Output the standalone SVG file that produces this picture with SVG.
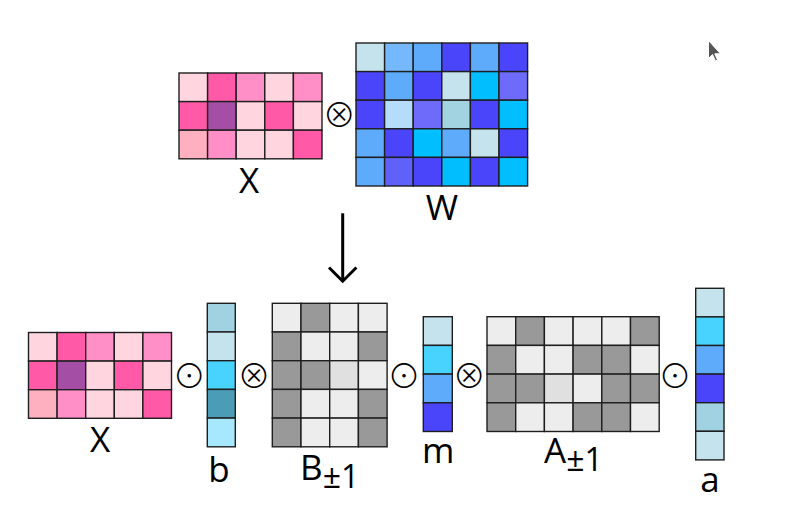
<svg xmlns="http://www.w3.org/2000/svg" width="788" height="514" viewBox="0 0 788 514">
<style>
rect{stroke:#1e1e1e;stroke-width:1.4}
.lp{fill:#FFD6DF}.hp{fill:#FF59A8}.mp{fill:#FF8FC6}.pu{fill:#A54EA5}.sp{fill:#FFB0C0}
.g1{fill:#C5E3EC}.lb{fill:#75B8FB}.bl{fill:#5EAAFB}.in{fill:#4A45FB}.cy{fill:#00BEFF}.lv{fill:#6E6BFB}.pb{fill:#B6DCFC}.tl{fill:#A2D3E0}.v2{fill:#6060FB}
.c1{fill:#A0D2E2}.c2{fill:#48D2FE}.c3{fill:#4B9CB6}.c4{fill:#A8E8FE}
.L{fill:#EDEDED}.D{fill:#999999}.M{fill:#E0E0E0}
.lbl{font-family:"Open Sans","Noto Sans",sans-serif;font-weight:400;font-size:35px;fill:#000}
.op{font-family:"Noto Sans CJK JP","DejaVu Sans",sans-serif;font-weight:300;font-size:33px;fill:#000;text-anchor:middle}
</style>
<g id="X_top">
<rect class="lp" x="179" y="73" width="28.6" height="28.6"/><rect class="hp" x="207.6" y="73" width="28.6" height="28.6"/><rect class="mp" x="236.2" y="73" width="28.6" height="28.6"/><rect class="lp" x="264.8" y="73" width="28.6" height="28.6"/><rect class="mp" x="293.4" y="73" width="28.6" height="28.6"/>
<rect class="hp" x="179" y="101.6" width="28.6" height="28.6"/><rect class="pu" x="207.6" y="101.6" width="28.6" height="28.6"/><rect class="lp" x="236.2" y="101.6" width="28.6" height="28.6"/><rect class="hp" x="264.8" y="101.6" width="28.6" height="28.6"/><rect class="lp" x="293.4" y="101.6" width="28.6" height="28.6"/>
<rect class="sp" x="179" y="130.2" width="28.6" height="28.6"/><rect class="mp" x="207.6" y="130.2" width="28.6" height="28.6"/><rect class="lp" x="236.2" y="130.2" width="28.6" height="28.6"/><rect class="lp" x="264.8" y="130.2" width="28.6" height="28.6"/><rect class="hp" x="293.4" y="130.2" width="28.6" height="28.6"/>
<text class="lbl" x="249" y="193" text-anchor="middle">X</text>
</g>
<g id="W">
<rect class="g1" x="356" y="43" width="28.6" height="28.6"/><rect class="lb" x="384.6" y="43" width="28.6" height="28.6"/><rect class="bl" x="413.2" y="43" width="28.6" height="28.6"/><rect class="in" x="441.8" y="43" width="28.6" height="28.6"/><rect class="bl" x="470.4" y="43" width="28.6" height="28.6"/><rect class="in" x="499" y="43" width="28.6" height="28.6"/>
<rect class="in" x="356" y="71.6" width="28.6" height="28.6"/><rect class="bl" x="384.6" y="71.6" width="28.6" height="28.6"/><rect class="in" x="413.2" y="71.6" width="28.6" height="28.6"/><rect class="g1" x="441.8" y="71.6" width="28.6" height="28.6"/><rect class="cy" x="470.4" y="71.6" width="28.6" height="28.6"/><rect class="lv" x="499" y="71.6" width="28.6" height="28.6"/>
<rect class="in" x="356" y="100.2" width="28.6" height="28.6"/><rect class="pb" x="384.6" y="100.2" width="28.6" height="28.6"/><rect class="lv" x="413.2" y="100.2" width="28.6" height="28.6"/><rect class="tl" x="441.8" y="100.2" width="28.6" height="28.6"/><rect class="in" x="470.4" y="100.2" width="28.6" height="28.6"/><rect class="cy" x="499" y="100.2" width="28.6" height="28.6"/>
<rect class="bl" x="356" y="128.8" width="28.6" height="28.6"/><rect class="in" x="384.6" y="128.8" width="28.6" height="28.6"/><rect class="cy" x="413.2" y="128.8" width="28.6" height="28.6"/><rect class="bl" x="441.8" y="128.8" width="28.6" height="28.6"/><rect class="g1" x="470.4" y="128.8" width="28.6" height="28.6"/><rect class="in" x="499" y="128.8" width="28.6" height="28.6"/>
<rect class="bl" x="356" y="157.4" width="28.6" height="28.6"/><rect class="v2" x="384.6" y="157.4" width="28.6" height="28.6"/><rect class="in" x="413.2" y="157.4" width="28.6" height="28.6"/><rect class="cy" x="441.8" y="157.4" width="28.6" height="28.6"/><rect class="in" x="470.4" y="157.4" width="28.6" height="28.6"/><rect class="cy" x="499" y="157.4" width="28.6" height="28.6"/>
<text class="lbl" x="442" y="220" text-anchor="middle">W</text>
</g>
<g id="X_bottom">
<rect class="lp" x="28.5" y="332.5" width="28.6" height="28.6"/><rect class="hp" x="57.1" y="332.5" width="28.6" height="28.6"/><rect class="mp" x="85.7" y="332.5" width="28.6" height="28.6"/><rect class="lp" x="114.3" y="332.5" width="28.6" height="28.6"/><rect class="mp" x="142.9" y="332.5" width="28.6" height="28.6"/>
<rect class="hp" x="28.5" y="361.1" width="28.6" height="28.6"/><rect class="pu" x="57.1" y="361.1" width="28.6" height="28.6"/><rect class="lp" x="85.7" y="361.1" width="28.6" height="28.6"/><rect class="hp" x="114.3" y="361.1" width="28.6" height="28.6"/><rect class="lp" x="142.9" y="361.1" width="28.6" height="28.6"/>
<rect class="sp" x="28.5" y="389.7" width="28.6" height="28.6"/><rect class="mp" x="57.1" y="389.7" width="28.6" height="28.6"/><rect class="lp" x="85.7" y="389.7" width="28.6" height="28.6"/><rect class="lp" x="114.3" y="389.7" width="28.6" height="28.6"/><rect class="hp" x="142.9" y="389.7" width="28.6" height="28.6"/>
<text class="lbl" x="100" y="452" text-anchor="middle">X</text>
</g>
<g id="b">
<rect class="c1" x="207.3" y="303.3" width="28" height="28.7"/><rect class="g1" x="207.3" y="332" width="28" height="28.7"/><rect class="c2" x="207.3" y="360.7" width="28" height="28.7"/><rect class="c3" x="207.3" y="389.4" width="28" height="28.7"/><rect class="c4" x="207.3" y="418.1" width="28" height="28.7"/>
<text class="lbl" x="219" y="482" text-anchor="middle">b</text>
</g>
<g id="B">
<rect class="L" x="272.3" y="303.3" width="28.7" height="28.7"/><rect class="D" x="301" y="303.3" width="28.7" height="28.7"/><rect class="L" x="329.7" y="303.3" width="28.7" height="28.7"/><rect class="L" x="358.4" y="303.3" width="28.7" height="28.7"/>
<rect class="D" x="272.3" y="332" width="28.7" height="28.7"/><rect class="L" x="301" y="332" width="28.7" height="28.7"/><rect class="L" x="329.7" y="332" width="28.7" height="28.7"/><rect class="D" x="358.4" y="332" width="28.7" height="28.7"/>
<rect class="D" x="272.3" y="360.7" width="28.7" height="28.7"/><rect class="D" x="301" y="360.7" width="28.7" height="28.7"/><rect class="M" x="329.7" y="360.7" width="28.7" height="28.7"/><rect class="L" x="358.4" y="360.7" width="28.7" height="28.7"/>
<rect class="D" x="272.3" y="389.4" width="28.7" height="28.7"/><rect class="L" x="301" y="389.4" width="28.7" height="28.7"/><rect class="L" x="329.7" y="389.4" width="28.7" height="28.7"/><rect class="D" x="358.4" y="389.4" width="28.7" height="28.7"/>
<rect class="D" x="272.3" y="418.1" width="28.7" height="28.7"/><rect class="L" x="301" y="418.1" width="28.7" height="28.7"/><rect class="L" x="329.7" y="418.1" width="28.7" height="28.7"/><rect class="D" x="358.4" y="418.1" width="28.7" height="28.7"/>
<text class="lbl" x="300" y="480">B<tspan font-size="32" dy="8">±1</tspan></text>
</g>
<g id="m">
<rect class="g1" x="423.3" y="316.7" width="29" height="28.7"/><rect class="c2" x="423.3" y="345.4" width="29" height="28.7"/><rect class="bl" x="423.3" y="374.1" width="29" height="28.7"/><rect class="in" x="423.3" y="402.8" width="29" height="28.7"/>
<text class="lbl" x="438.3" y="463" text-anchor="middle">m</text>
</g>
<g id="A">
<rect class="L" x="487" y="316.7" width="28.7" height="28.7"/><rect class="D" x="515.7" y="316.7" width="28.7" height="28.7"/><rect class="L" x="544.4" y="316.7" width="28.7" height="28.7"/><rect class="L" x="573.1" y="316.7" width="28.7" height="28.7"/><rect class="L" x="601.8" y="316.7" width="28.7" height="28.7"/><rect class="D" x="630.5" y="316.7" width="28.7" height="28.7"/>
<rect class="D" x="487" y="345.4" width="28.7" height="28.7"/><rect class="L" x="515.7" y="345.4" width="28.7" height="28.7"/><rect class="L" x="544.4" y="345.4" width="28.7" height="28.7"/><rect class="D" x="573.1" y="345.4" width="28.7" height="28.7"/><rect class="D" x="601.8" y="345.4" width="28.7" height="28.7"/><rect class="L" x="630.5" y="345.4" width="28.7" height="28.7"/>
<rect class="D" x="487" y="374.1" width="28.7" height="28.7"/><rect class="D" x="515.7" y="374.1" width="28.7" height="28.7"/><rect class="M" x="544.4" y="374.1" width="28.7" height="28.7"/><rect class="L" x="573.1" y="374.1" width="28.7" height="28.7"/><rect class="D" x="601.8" y="374.1" width="28.7" height="28.7"/><rect class="D" x="630.5" y="374.1" width="28.7" height="28.7"/>
<rect class="D" x="487" y="402.8" width="28.7" height="28.7"/><rect class="L" x="515.7" y="402.8" width="28.7" height="28.7"/><rect class="L" x="544.4" y="402.8" width="28.7" height="28.7"/><rect class="D" x="573.1" y="402.8" width="28.7" height="28.7"/><rect class="D" x="601.8" y="402.8" width="28.7" height="28.7"/><rect class="L" x="630.5" y="402.8" width="28.7" height="28.7"/>
<text class="lbl" x="544" y="463.3">A<tspan font-size="32" dy="8">±1</tspan></text>
</g>
<g id="a">
<rect class="g1" x="695.7" y="288.3" width="28.3" height="28.6"/><rect class="c2" x="695.7" y="316.9" width="28.3" height="28.6"/><rect class="bl" x="695.7" y="345.5" width="28.3" height="28.6"/><rect class="in" x="695.7" y="374.1" width="28.3" height="28.6"/><rect class="c1" x="695.7" y="402.7" width="28.3" height="28.6"/><rect class="g1" x="695.7" y="431.3" width="28.3" height="28.6"/>
<text class="lbl" x="710" y="492" text-anchor="middle">a</text>
</g>
<g id="operators">
<text class="op" x="339.3" y="126.7">⊗</text>
<text class="op" x="189.3" y="388.4">⊙</text>
<text class="op" x="254" y="388.4">⊗</text>
<text class="op" x="404" y="388.4">⊙</text>
<text class="op" x="469.3" y="388.4">⊗</text>
<text class="op" x="675" y="388.4">⊙</text>
</g>
<g id="connectors" fill="none" stroke="#000" stroke-width="3">
<path d="M342.7 213.3 V281"/>
<path d="M329 267.5 L342.7 281.2 L356.4 267.5" stroke-linejoin="miter"/>
</g>
<path d="M708.5 40.5 V58.5 L712.5 54.5 L715.5 61 L717.5 60 L714.8 53.8 L720.5 53.8 Z" fill="#555" stroke="#fff" stroke-width="1"/>
</svg>
